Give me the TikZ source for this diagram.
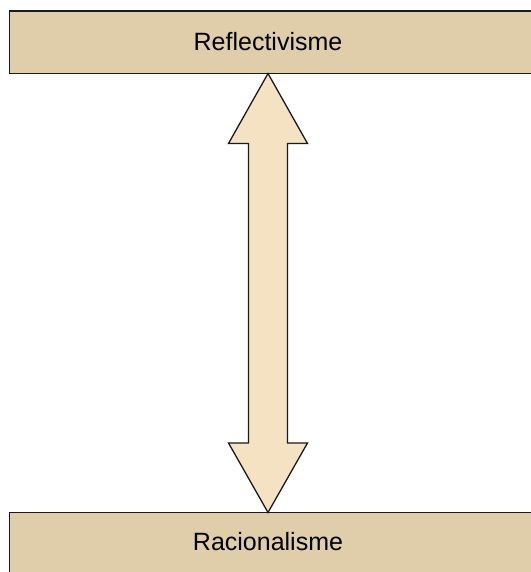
\documentclass[tikz,border=0pt]{standalone}
\usepackage{fontspec}
\setmainfont{Liberation Sans}
\usetikzlibrary{calc}
\definecolor{boxfill}{HTML}{E0CDAA}
\definecolor{arrowfill}{HTML}{F5E2C2}
\definecolor{edge}{HTML}{1A1A1A}
\tikzset{
  box/.style={draw=edge, fill=boxfill, line width=1.5pt, rectangle, inner sep=0pt, outer sep=0pt},
  lbl/.style={inner sep=0pt, font=\fontsize{25}{30}\selectfont, text=black},
  bigarrow/.style={draw=edge, fill=arrowfill, line width=1.3pt, line join=miter}
}
\begin{document}
\begin{tikzpicture}[x=1pt,y=1pt]
\useasboundingbox (0,0) rectangle (530,572);
\node[box, minimum width=540pt, minimum height=62.5pt, anchor=north west] (top) at (9.5,561) {};
\node[box, minimum width=540pt, minimum height=80pt, anchor=north west] (bot) at (9.5,59.5) {};
\node[lbl] (toplbl) at (268,530) {Reflectivisme};
\node[lbl] (botlbl) at (268,30) {Racionalisme};
\coordinate (tipT) at (top.south -| toplbl);
\coordinate (tipB) at (bot.north -| botlbl);
\draw[bigarrow] (tipT) -- ($(tipT)+(39.5,-70)$) -- ($(tipT)+(19.5,-70)$)
  -- ($(tipB)+(19.5,69.5)$) -- ($(tipB)+(39.5,69.5)$) -- (tipB)
  -- ($(tipB)+(-39.5,69.5)$) -- ($(tipB)+(-19.5,69.5)$)
  -- ($(tipT)+(-19.5,-70)$) -- ($(tipT)+(-39.5,-70)$) -- cycle;
\end{tikzpicture}
\end{document}
